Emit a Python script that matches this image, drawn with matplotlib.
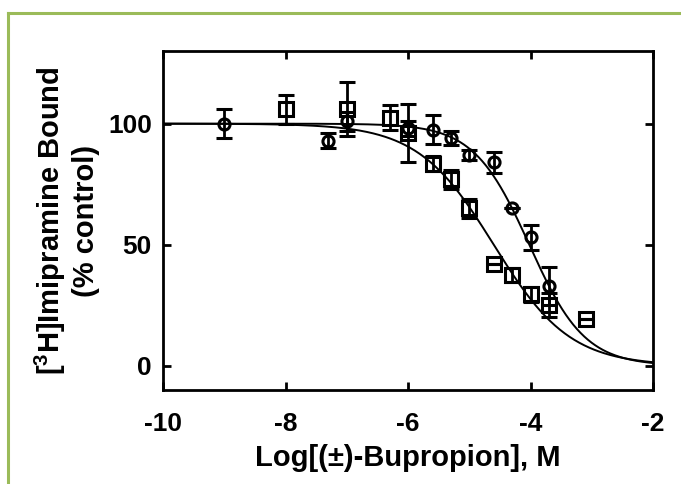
import numpy as np
import matplotlib
matplotlib.use('Agg')
import matplotlib.pyplot as plt
from matplotlib.lines import Line2D

plt.rcParams['font.family'] = ['Liberation Sans', 'DejaVu Sans']
plt.rcParams['font.weight'] = 'bold'
plt.rcParams['mathtext.fontset'] = 'custom'
plt.rcParams['mathtext.rm'] = 'Liberation Sans:bold'
plt.rcParams['mathtext.bf'] = 'Liberation Sans:bold'

# circles (right-shifted curve)
circ_x = [-9, -7.3, -7, -6, -5.6, -5.3, -5, -4.6, -4.3, -4, -3.7]
circ_y = [100, 93, 101, 98, 97.5, 94, 87, 84, 65, 53, 33]
circ_err = [6, 3, 4, 3, 6, 3, 2, 4.5, 0, 5, 8]

# squares (left-shifted curve)
sq_x = [-8, -7, -6.3, -6, -5.6, -5.3, -5, -4.6, -4.3, -4, -3.7, -3.1]
sq_y = [106, 106, 102.5, 96, 83.5, 77, 65, 42, 37.5, 29.5, 25, 19.5]
sq_err = [6, 11, 5, 12, 3, 4, 4, 0, 3, 3, 5, 0]

# fitted one-site curves: logIC50, hill slope
circ_fit = [-4.02, 0.96]
sq_fit = [-4.6, 0.7]

xticks = [-10, -8, -6, -4, -2]
yticks = [0, 50, 100]


def hill(x, logic50, n):
    return 100.0 / (1 + 10 ** ((x - logic50) * n))


fig = plt.figure(figsize=(6.81, 4.84), dpi=100)
ax = fig.add_axes([0.2394, 0.1942, 0.7195, 0.7004])

xx = np.linspace(-10, -2, 400)
ax.plot(xx, hill(xx, *circ_fit), color='k', lw=1.4, zorder=2)
ax.plot(xx, hill(xx, *sq_fit), color='k', lw=1.4, zorder=2)

ax.errorbar(circ_x, circ_y, yerr=circ_err, fmt='o', ms=8, mfc='none', mec='k',
            mew=2.2, ecolor='k', elinewidth=2, capsize=6, capthick=2.2, zorder=3)
ax.errorbar(sq_x, sq_y, yerr=sq_err, fmt='s', ms=9.5, mfc='none', mec='k',
            mew=2.2, ecolor='k', elinewidth=2, capsize=6, capthick=2.2, zorder=3)

ax.set_xlim(-10, -2)
ax.set_ylim(-10, 130)
ax.set_xticks(xticks)
ax.set_yticks(yticks)
ax.set_xticklabels([str(t) for t in xticks])
ax.tick_params(direction='in', length=6, width=2, top=True, right=True,
               labelsize=19)
ax.tick_params(axis='x', pad=16)
ax.tick_params(axis='y', pad=8)
for s in ax.spines.values():
    s.set_linewidth(2)

ax.set_xlabel('Log[(\u00b1)-Bupropion], M', fontsize=21, fontweight='bold',
              va='center')
ax.xaxis.set_label_coords(0.5, -0.2)
ax.set_ylabel('[$^{3}$H]Imipramine Bound\n(% control)', fontsize=21,
              fontweight='bold', va='center', linespacing=1.2)
ax.yaxis.set_label_coords(-0.197, 0.5)

# green frame around the picture (open to right and bottom)
green = '#9BBB59'
fig.add_artist(Line2D([8 / 681, 8 / 681], [0, 1 - 13 / 484], color=green, lw=2.2,
                      transform=fig.transFigure))
fig.add_artist(Line2D([8 / 681, 1], [1 - 13 / 484, 1 - 13 / 484], color=green, lw=2.2,
                      transform=fig.transFigure))

fig.savefig('out.png', dpi=100)
